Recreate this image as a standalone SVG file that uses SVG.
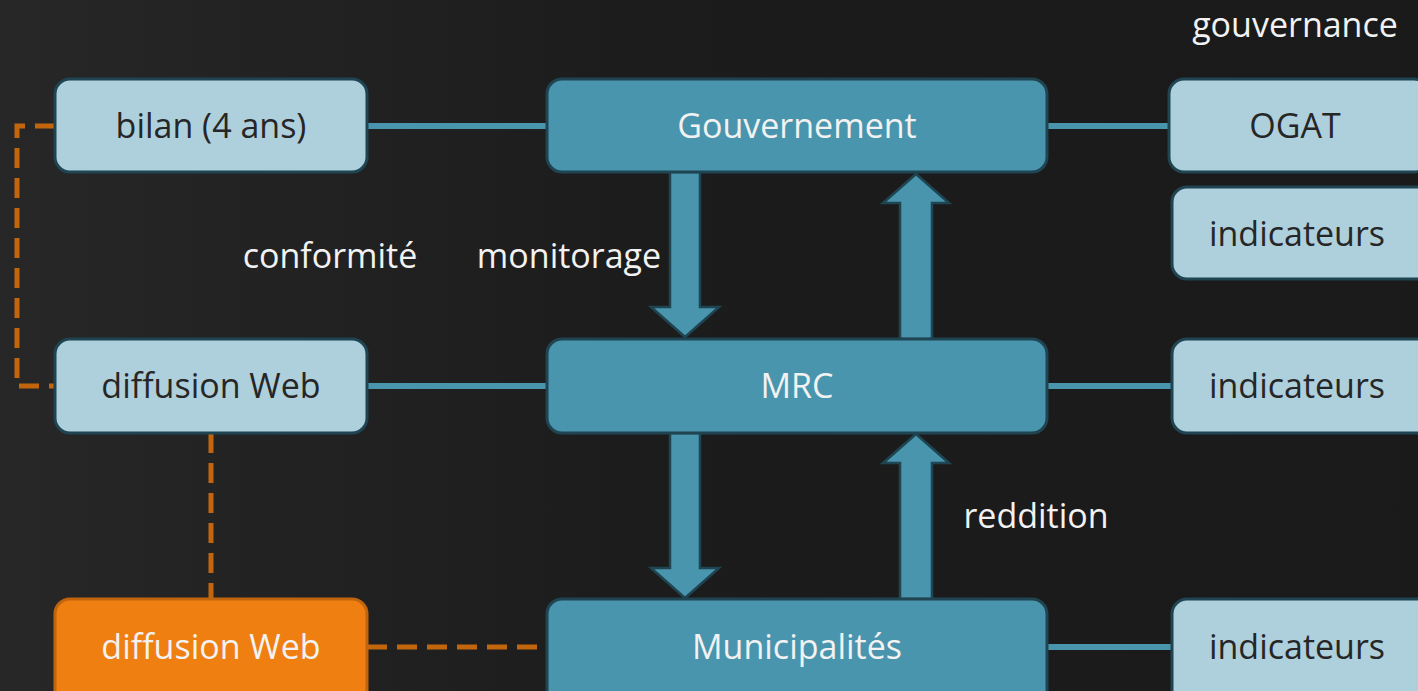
<svg xmlns="http://www.w3.org/2000/svg" width="1418" height="691" viewBox="0 0 1418 691">
<defs>
<linearGradient id="bg" x1="0" y1="0" x2="1" y2="0">
<stop offset="0" stop-color="#272727"/>
<stop offset="0.45" stop-color="#1c1c1c"/>
<stop offset="1" stop-color="#1a1a1a"/>
</linearGradient>
</defs>
<style>
.light{fill:#aecfdc;stroke:#1f4452;stroke-width:3}
.dark{fill:#4a95ae;stroke:#1f4452;stroke-width:3}
.orange{fill:#ef7f10;stroke:#c0650e;stroke-width:3}
.t{font-family:"Open Sans","Liberation Sans",sans-serif;font-size:34px;text-anchor:middle}
.tl{fill:#262626}
.tw{fill:#f2f2f2}
.line{stroke:#4a95ae;stroke-width:6;fill:none}
.dash{stroke:#c2660e;stroke-width:5;fill:none;stroke-dasharray:20 10}
.arrow{fill:#4a95ae;stroke:#1f4452;stroke-width:2.5;stroke-linejoin:miter}
</style>
<rect width="1418" height="691" fill="url(#bg)"/>
<g id="connectors">
<line class="line" x1="367" y1="126" x2="547" y2="126"/>
<line class="line" x1="1047" y1="126" x2="1169" y2="126"/>
<line class="line" x1="367" y1="386" x2="547" y2="386"/>
<line class="line" x1="1047" y1="386" x2="1172" y2="386"/>
<line class="line" x1="1047" y1="647" x2="1172" y2="647"/>
<path class="dash" d="M55 126 H17 V386 H55"/>
<line class="dash" x1="211" y1="433" x2="211" y2="599"/>
<line class="dash" x1="367" y1="647" x2="547" y2="647"/>
<path class="arrow" d="M670 172 H700 V307 H719 L685 337 L651 307 H670 Z"/>
<path class="arrow" d="M900 339 V203 H883 L916 174 L949 203 H932 V339 Z"/>
<path class="arrow" d="M670 433 H700 V568 H719 L685 598 L651 568 H670 Z"/>
<path class="arrow" d="M900 599 V463 H883 L916 434 L949 463 H932 V599 Z"/>
</g>
<g id="label-conformite"><text class="t tw" x="330" y="268">conformité</text></g>
<g id="label-monitorage"><text class="t tw" x="569" y="268">monitorage</text></g>
<g id="label-reddition"><text class="t tw" x="1036" y="528">reddition</text></g>
<g id="label-gouvernance"><text class="t tw" x="1295" y="37">gouvernance</text></g>
<g id="node-bilan"><rect class="light" x="55" y="79" width="312" height="93" rx="15"/><text class="t tl" x="211" y="138">bilan (4 ans)</text></g>
<g id="node-gouvernement"><rect class="dark" x="547" y="79" width="500" height="93" rx="15"/><text class="t tw" x="797" y="138">Gouvernement</text></g>
<g id="node-ogat"><rect class="light" x="1169" y="79" width="260" height="93" rx="15"/><text class="t tl" x="1295" y="138">OGAT</text></g>
<g id="node-indicateurs1"><rect class="light" x="1172" y="187" width="260" height="92" rx="15"/><text class="t tl" x="1297" y="246">indicateurs</text></g>
<g id="node-diffusion1"><rect class="light" x="55" y="339" width="312" height="94" rx="15"/><text class="t tl" x="211" y="398">diffusion Web</text></g>
<g id="node-mrc"><rect class="dark" x="547" y="339" width="500" height="94" rx="15"/><text class="t tw" x="797" y="398">MRC</text></g>
<g id="node-indicateurs2"><rect class="light" x="1172" y="339" width="260" height="94" rx="15"/><text class="t tl" x="1297" y="398">indicateurs</text></g>
<g id="node-diffusion2"><rect class="orange" x="55" y="599" width="312" height="110" rx="15"/><text class="t tw" x="211" y="659">diffusion Web</text></g>
<g id="node-municipalites"><rect class="dark" x="547" y="599" width="500" height="110" rx="15"/><text class="t tw" x="797" y="659">Municipalités</text></g>
<g id="node-indicateurs3"><rect class="light" x="1172" y="599" width="260" height="110" rx="15"/><text class="t tl" x="1297" y="659">indicateurs</text></g>
</svg>
